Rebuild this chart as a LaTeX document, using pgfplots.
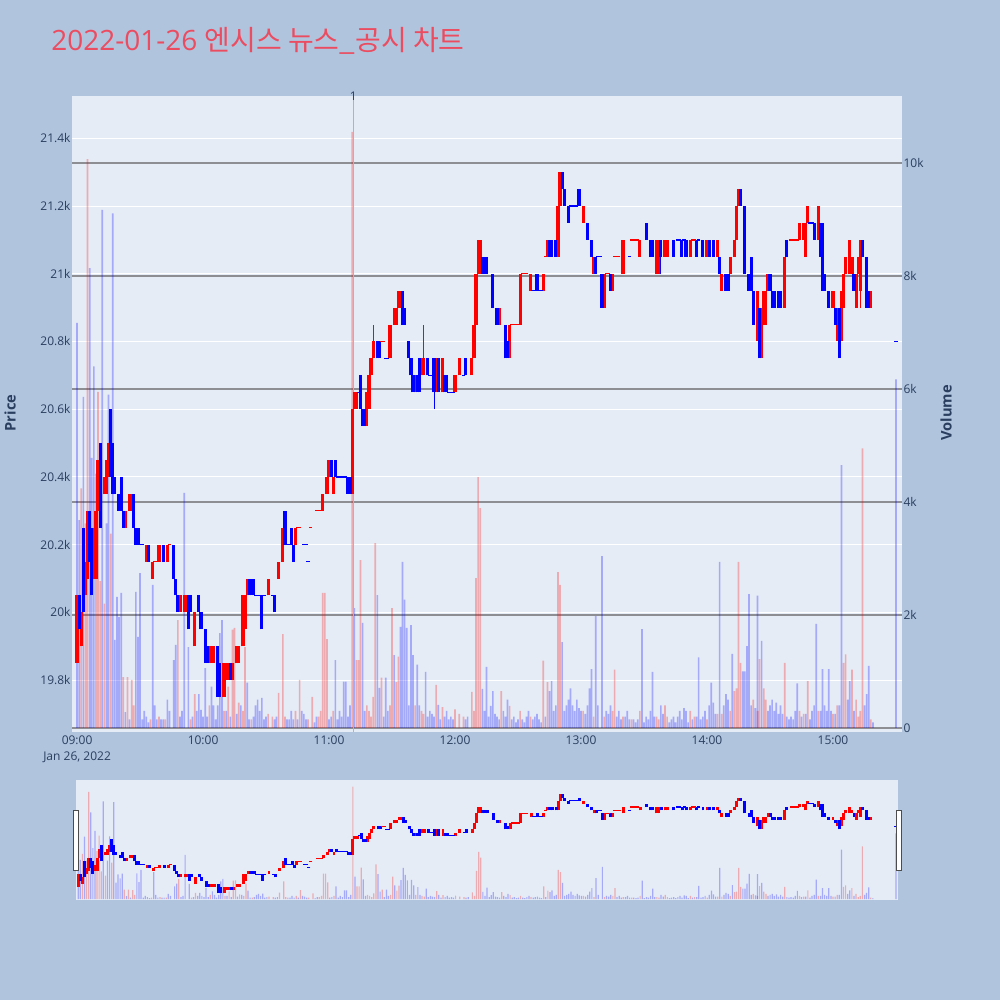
\documentclass[border=0pt]{standalone}
\usepackage{fontspec}
\setmainfont{Open Sans}
\newfontfamily\cjk{Noto Sans CJK KR}
\usepackage{pgfplots}
\usepackage{pgfplotstable}
\pgfplotsset{compat=1.18}
\definecolor{pagebg}{RGB}{176,196,222}
\definecolor{plotbg}{RGB}{229,236,246}
\definecolor{tickc}{RGB}{42,63,95}
\definecolor{titlec}{RGB}{236,76,96}
\definecolor{vgrid}{RGB}{140,142,148}
\definecolor{vlinec}{RGB}{165,175,238}

\pgfplotstableread{
t lo hi
0 19850 20050
2 19900 20000
4 20050 20150
5 20100 20300
8 20100 20200
9 20100 20300
10 20300 20450
13 20350 20400
14 20350 20450
15 20400 20500
23 20250 20300
25 20300 20350
26 20300 20350
33 20150 20200
36 20100 20150
39 20150 20200
43 20150 20200
49 20000 20050
51 20000 20050
52 20000 20050
56 19900 20000
63 19850 19900
64 19850 19900
65 19850 19900
70 19750 19850
71 19800 19850
72 19800 19850
74 19800 19850
76 19850 19900
77 19850 19900
79 19900 20050
80 19950 20050
81 20050 20100
91 20050 20100
96 20100 20150
98 20150 20250
104 20200 20250
117 20300 20350
119 20350 20400
120 20400 20450
122 20350 20400
131 20350 20600
132 20600 20650
133 20600 20650
138 20550 20650
139 20600 20700
140 20700 20750
141 20750 20800
149 20750 20850
151 20850 20900
152 20850 20900
153 20900 20950
154 20900 20950
161 20650 20700
164 20700 20750
165 20700 20750
171 20650 20750
174 20650 20750
180 20650 20700
182 20700 20750
188 20700 20750
189 20750 20850
190 20850 21000
191 21000 21100
192 21000 21100
201 20850 20900
206 20750 20850
211 20850 21000
216 20950 21000
222 20950 21000
224 21050 21100
229 21050 21200
230 21200 21300
241 21150 21200
246 21000 21050
251 20900 21000
255 20950 21000
260 21000 21100
268 21050 21100
276 21000 21100
277 21000 21100
280 21050 21100
281 21050 21100
292 21050 21100
300 21050 21100
305 21050 21100
307 20950 21000
311 21000 21050
313 21050 21100
314 21100 21200
315 21200 21250
324 20800 20950
326 20750 20900
327 20850 20950
328 20850 20950
329 20950 21000
337 20900 21050
344 21100 21150
346 21100 21150
347 21050 21150
348 21150 21200
353 21100 21200
360 20900 20950
362 20800 20900
364 20800 20950
365 20900 21000
366 21000 21050
368 21000 21100
369 21000 21050
371 20900 21000
372 21000 21050
373 20950 21100
378 20900 20950
}\redbody

\pgfplotstableread{
t lo hi
1 19950 20050
3 20000 20250
6 20150 20300
7 20050 20250
11 20250 20500
16 20400 20600
17 20350 20500
18 20350 20400
20 20300 20350
21 20300 20400
22 20250 20300
27 20250 20350
28 20200 20250
29 20200 20250
34 20150 20200
41 20150 20200
46 20100 20200
47 20050 20100
48 20000 20050
53 19950 20050
54 20000 20050
58 20000 20050
59 19950 20000
61 19850 19950
62 19850 19900
67 19750 19900
68 19750 19850
73 19800 19850
82 20050 20100
83 20050 20100
84 20050 20100
88 19950 20050
94 20000 20050
99 20200 20300
102 20200 20250
103 20150 20200
121 20400 20450
123 20400 20450
129 20350 20400
130 20350 20400
135 20600 20700
136 20550 20600
137 20550 20600
143 20750 20800
144 20750 20800
155 20850 20950
156 20850 20900
158 20750 20800
159 20700 20750
160 20650 20700
162 20650 20700
163 20650 20750
167 20700 20750
170 20650 20750
172 20650 20750
175 20650 20700
176 20650 20700
185 20700 20750
193 21000 21050
194 21000 21050
195 21000 21050
198 20900 21000
200 20850 20900
204 20750 20850
205 20750 20800
219 20950 21000
225 21050 21100
226 21050 21100
228 21050 21100
231 21250 21300
232 21200 21250
234 21150 21200
239 21200 21250
243 21100 21150
245 21050 21100
247 21000 21050
250 20900 21000
254 20950 21000
271 21100 21150
273 21050 21100
274 21050 21100
278 21050 21100
284 21050 21100
288 21050 21100
290 21050 21100
295 21050 21100
298 21050 21100
301 21050 21100
303 21050 21100
306 21000 21050
309 20950 21000
310 20950 21000
316 21200 21250
318 21000 21200
320 20950 21000
321 20950 21050
322 20850 20950
325 20750 20900
330 20950 21000
331 20900 20950
332 20900 20950
334 20900 20950
335 20900 20950
338 21050 21100
351 21100 21150
354 21050 21150
355 20950 21150
356 20950 21000
358 20900 20950
361 20850 20900
363 20750 20900
370 20950 21000
374 21050 21100
376 20900 21050
377 20900 20950
}\bluebody

\pgfplotstableread{
t lo hi
8 20100 20250
141 20750 20850
165 20700 20850
373 20900 21100
}\redwick

\pgfplotstableread{
t lo hi
170 20600 20750
278 21000 21100
321 20950 21050
}\bluewick

\pgfplotstableread{
t p
37 20150
38 20150
44 20200
105 20250
106 20250
111 20250
114 20300
115 20300
116 20300
145 20800
146 20800
207 20850
208 20850
209 20850
210 20850
212 21000
213 21000
214 21000
223 21050
252 21000
253 21000
256 21050
257 21050
258 21050
264 21100
265 21100
266 21100
267 21100
293 21100
294 21100
340 21100
341 21100
342 21100
343 21100
}\reddoji

\pgfplotstableread{
t p
30 20200
31 20200
85 20050
86 20050
87 20050
89 20050
93 20050
100 20200
101 20200
108 20200
109 20200
110 20150
124 20400
125 20400
126 20400
127 20400
128 20400
134 20650
147 20750
148 20750
168 20700
169 20700
177 20650
178 20650
179 20650
184 20700
217 20950
218 20950
220 20950
221 20950
235 21200
236 21200
237 21200
238 21200
248 21050
249 21050
263 21050
286 21100
287 21100
289 21100
296 21100
349 21150
350 21150
390 20800
}\bluedoji

\pgfplotstableread{
t v
2 4240
4 3620
5 10070
9 4500
10 5950
11 2600
13 2200
16 3440
22 900
24 900
26 850
27 400
35 150
39 200
42 150
48 1910
54 150
56 600
63 400
70 300
72 730
74 1740
75 1770
77 450
79 300
80 1430
83 150
91 250
93 200
96 620
98 1660
99 200
104 300
106 850
110 150
112 550
115 200
116 300
117 2390
118 2390
119 1570
122 300
131 10550
133 1200
134 1200
135 2970
138 400
139 300
140 200
141 550
142 3270
145 890
149 400
150 2120
152 810
153 1260
161 400
164 300
165 250
171 760
174 370
180 330
182 250
184 200
188 640
189 300
190 2650
191 4440
192 3890
202 650
206 390
211 300
216 200
222 1190
224 810
229 2760
230 2530
241 300
246 200
251 200
255 300
256 1030
260 200
264 150
268 300
276 200
277 150
280 400
281 200
292 300
294 200
300 150
305 250
307 250
311 300
313 650
314 700
315 2940
316 1150
322 500
324 300
325 1220
327 700
328 500
337 1150
344 300
346 250
348 830
353 300
360 250
362 400
365 1150
366 1300
369 1030
371 500
372 200
373 300
374 4950
378 150
}\redvol

\pgfplotstableread{
t v
0 7170
1 3680
3 5860
6 8140
7 4780
8 6400
12 9170
14 3620
15 5900
17 9110
18 1560
19 2320
20 1960
21 2390
23 280
25 150
28 2410
29 1610
30 2740
31 150
32 300
33 200
34 100
36 2530
37 400
38 150
40 150
41 150
43 500
44 300
46 1200
47 1470
49 200
50 300
51 4160
53 1430
55 200
57 300
58 600
59 320
60 200
61 1060
62 200
64 730
65 400
66 150
67 400
68 1680
69 1910
71 300
73 200
76 250
78 400
81 800
82 150
84 200
85 400
86 500
87 300
88 530
89 150
90 200
94 150
95 200
100 150
101 150
102 300
103 150
105 150
107 300
108 250
109 150
113 100
114 200
120 150
121 200
123 1200
124 150
125 300
126 200
127 820
128 820
129 200
130 400
132 2120
136 1860
137 300
143 2350
144 710
146 200
147 890
148 300
151 1290
154 1790
155 2940
156 2270
157 1770
158 400
159 1820
160 1290
162 1120
163 400
166 990
167 200
168 300
169 250
170 200
172 410
173 150
175 200
176 300
177 150
178 200
179 150
185 150
186 200
193 690
194 300
195 1080
196 200
197 390
198 650
199 250
200 200
201 150
203 300
204 200
205 500
207 150
208 200
209 100
210 150
212 150
213 100
214 200
215 300
217 150
218 200
219 250
220 150
221 100
223 200
225 650
226 830
227 300
228 400
231 1520
232 300
233 400
234 500
235 700
236 400
237 300
238 500
239 350
240 300
242 250
243 400
244 700
245 1040
247 1980
248 400
250 3040
252 300
253 250
254 400
257 200
258 300
259 150
261 200
262 300
263 150
265 150
266 100
267 150
269 1750
270 100
271 200
272 150
273 300
274 990
275 200
278 400
279 250
282 100
283 150
284 200
285 100
286 200
287 300
288 150
289 350
290 300
291 100
293 150
295 200
296 1250
297 150
298 200
299 300
301 400
302 800
303 450
304 250
306 2940
308 400
309 600
310 500
312 1310
317 1000
318 1000
319 1450
320 2370
321 400
323 350
324 2340
326 1540
329 300
330 400
331 500
332 300
333 450
334 250
335 400
336 250
338 200
339 150
340 200
341 150
342 300
343 790
345 200
347 250
349 150
350 300
351 400
352 1840
354 300
355 1040
356 400
357 300
358 1040
359 300
361 250
363 400
364 4650
367 500
368 830
370 300
375 400
376 600
377 1100
379 100
390 6170
}\bluevol

\tikzset{tl/.style={font=\fontsize{9}{10}\selectfont, text=tickc}}
\pgfplotsset{
  mainpos/.style={scale only axis, width=622.5pt, height=477pt, at={(54pt,201pt)}, anchor=south west, xmin=-2.38, xmax=392.86},
  slidepos/.style={scale only axis, width=616.5pt, height=90pt, at={(57pt,75pt)}, anchor=south west, xmin=-1, xmax=391},
  pricerange/.style={ymin=19647, ymax=21525},
  volrange/.style={ymin=-71, ymax=11186},
  body/.style n args={2}{draw=none, mark=none, forget plot, error bars/.cd, y dir=plus, y explicit, error mark=none, error bar style={draw=#1, line width=#2, line cap=butt}},
  doji/.style n args={2}{only marks, mark=-, mark size=#2, mark options={draw=#1, line width=0.9pt}, forget plot},
  vol/.style n args={2}{ybar, bar shift=0pt, bar width=#2, fill=#1, fill opacity=0.28, draw=none, forget plot},
}

\begin{document}
\begin{tikzpicture}
\fill[pagebg] (0,0) rectangle (750pt,750pt);
\node[anchor=base west, inner sep=0pt, text=titlec, font=\fontsize{21}{25}\selectfont] at (38.25pt,711.75pt) {2022-01-26 {\cjk 엔시스 뉴스\_공시 차트}};

% main: price grid and ticks
\begin{axis}[mainpos, pricerange,
  axis background/.style={fill=plotbg},
  axis line style={draw=none}, major tick length=0pt,
  scaled y ticks=false, scaled x ticks=false,
  ytick={19800,20000,...,21400},
  yticklabels={19.8k,20k,20.2k,20.4k,20.6k,20.8k,21k,21.2k,21.4k},
  ymajorgrids, grid style={white, line width=0.8pt},
  xtick={0,60,...,360},
  xticklabels={09:00,10:00,11:00,12:00,13:00,14:00,15:00},
  ticklabel style={tl},
  yticklabel style={anchor=east, inner xsep=1pt},
  xticklabel style={anchor=north, inner ysep=2.5pt}]
\addplot[draw=none, forget plot] coordinates {(0,20000)};
\end{axis}

% main: volume
\begin{axis}[mainpos, volrange,
  axis y line*=right, axis x line=none,
  axis line style={draw=none}, major tick length=0pt,
  scaled y ticks=false,
  ytick={0,2000,...,10000}, yticklabels={0,2k,4k,6k,8k,10k},
  ymajorgrids, grid style={vgrid, line width=0.9pt},
  ticklabel style={tl},
  yticklabel style={anchor=west, inner xsep=1pt}]
\addplot[vol={red}{1.25pt}] table[x=t,y=v] {\redvol};
\addplot[vol={blue}{1.25pt}] table[x=t,y=v] {\bluevol};
\end{axis}

% main: candles
\begin{axis}[mainpos, pricerange, hide axis, clip=false]
\draw[vlinec, line width=0.7pt] (axis cs:131.5,19647) -- (axis cs:131.5,21525);
\node[tl, inner sep=0pt] at (axis cs:131.5,21525) [yshift=-0.5pt] {1};
\addplot[body={red}{0.8pt}] table[x=t, y=lo, y error expr=\thisrow{hi}-\thisrow{lo}] {\redwick};
\addplot[body={blue}{0.8pt}] table[x=t, y=lo, y error expr=\thisrow{hi}-\thisrow{lo}] {\bluewick};
\addplot[body={red}{2.4pt}] table[x=t, y=lo, y error expr=\thisrow{hi}-\thisrow{lo}] {\redbody};
\addplot[body={blue}{2.4pt}] table[x=t, y=lo, y error expr=\thisrow{hi}-\thisrow{lo}] {\bluebody};
\addplot[doji={red}{1.2pt}] table[x=t,y=p] {\reddoji};
\addplot[doji={blue}{1.2pt}] table[x=t,y=p] {\bluedoji};
\end{axis}

\node[rotate=90, font=\fontsize{11}{12}\selectfont\bfseries, text=tickc] at (7.5pt,440.25pt) {Price};
\node[rotate=90, font=\fontsize{11}{12}\selectfont\bfseries, text=tickc] at (709.5pt,440.25pt) {Volume};
\node[tl] at (57.75pt,182.25pt) {Jan 26, 2022};

% range slider
\fill[plotbg] (57pt,75pt) rectangle (673.5pt,165pt);
\begin{axis}[slidepos, volrange, hide axis]
\addplot[vol={red}{0.9pt}] table[x=t,y=v] {\redvol};
\addplot[vol={blue}{0.9pt}] table[x=t,y=v] {\bluevol};
\end{axis}
\begin{axis}[slidepos, pricerange, hide axis]
\addplot[body={red}{2.2pt}] table[x=t, y=lo, y error expr=\thisrow{hi}-\thisrow{lo}] {\redbody};
\addplot[body={blue}{2.2pt}] table[x=t, y=lo, y error expr=\thisrow{hi}-\thisrow{lo}] {\bluebody};
\addplot[doji={red}{1.1pt}] table[x=t,y=p] {\reddoji};
\addplot[doji={blue}{1.1pt}] table[x=t,y=p] {\bluedoji};
\end{axis}
\filldraw[fill=white, draw=black!70, line width=0.6pt] (54.75pt,97.5pt) rectangle (58.5pt,142.5pt);
\filldraw[fill=white, draw=black!70, line width=0.6pt] (672pt,97.5pt) rectangle (675.75pt,142.5pt);
\end{tikzpicture}
\end{document}
